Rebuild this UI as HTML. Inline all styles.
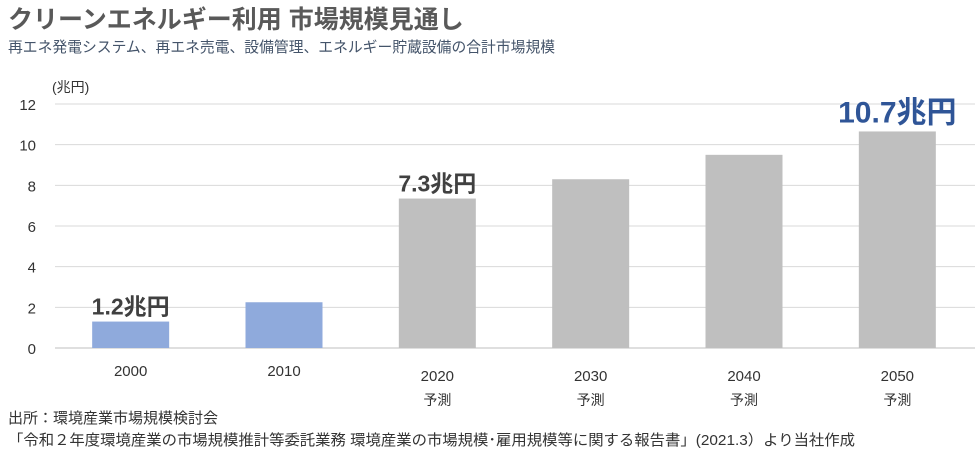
<!DOCTYPE html>
<html><head><meta charset="utf-8">
<style>
body{margin:0;background:#fff;width:980px;height:453px;overflow:hidden;font-family:"Liberation Sans","Noto Sans CJK JP",sans-serif;}
svg text{font-family:"Liberation Sans","Noto Sans CJK JP",sans-serif;}
</style></head>
<body>
<svg width="980" height="453" xmlns="http://www.w3.org/2000/svg">
<text x="8" y="28" font-size="25" font-weight="bold" fill="#595959">クリーンエネルギー利用 市場規模見通し</text>
<text x="8" y="52" font-size="14.8" fill="#44546a">再エネ発電システム、再エネ売電、設備管理、エネルギー貯蔵設備の合計市場規模</text>
<text x="52" y="92" font-size="14" fill="#333">(兆円)</text>
<g id="grid"></g>
<g id="yticks"></g>
<g id="bars"></g>
<g id="xticks"></g>
<text x="8" y="423" font-size="15" fill="#333">出所：環境産業市場規模検討会</text>
<text x="8" y="445" font-size="15" fill="#333" textLength="847" lengthAdjust="spacingAndGlyphs">「令和２年度環境産業の市場規模推計等委託業務 環境産業の市場規模･雇用規模等に関する報告書」(2021.3）より当社作成</text>
</svg>
<script>
const categories=["2000","2010","2020","2030","2040","2050"];
const values=[1.3,2.25,7.35,8.3,9.5,10.65];
const forecast=[false,false,true,true,true,true];
const labels=["1.2兆円","","7.3兆円","","","10.7兆円"];
const yTicks=[0,2,4,6,8,10,12];
const NS="http://www.w3.org/2000/svg";
const x0=55,x1=975,yZero=348,yTop=104,yMax=12;
const y=v=>yZero-(yZero-yTop)*v/yMax;
const band=(x1-x0)/categories.length;
const xc=i=>x0+band*(i+0.5)-1;
function mk(t,a,p){const e=document.createElementNS(NS,t);for(const k in a)e.setAttribute(k,a[k]);p.appendChild(e);return e;}
const g=document.getElementById('grid'),yt=document.getElementById('yticks'),b=document.getElementById('bars'),xt=document.getElementById('xticks');
yTicks.forEach(v=>{
 const l=mk('line',{x1:x0,x2:x1,y1:y(v),y2:y(v),stroke:v===0?'#bfbfbf':'#d9d9d9','stroke-width':1},g);
 
 
 const t=mk('text',{x:36,y:y(v)+6,'font-size':15,fill:'#333','text-anchor':'end'},yt);
 t.textContent=v;
 
 
});
categories.forEach((c,i)=>{
 const w=77;
 const r=mk('rect',{x:xc(i)-w/2,y:y(values[i]),width:w,height:yZero-y(values[i]),fill:forecast[i]?'#bfbfbf':'#8faadc'},b);
 
 
 const t=mk('text',{x:xc(i),y:forecast[i]?381:376,'font-size':15,fill:'#333','text-anchor':'middle'},xt);
 t.textContent=c;
 
 
 if(forecast[i]){
  const f=mk('text',{x:xc(i),y:405,'font-size':14,fill:'#333','text-anchor':'middle'},xt);
  f.textContent='予測';
  
  
 }
 if(labels[i]){
  const big=i===categories.length-1;
  const l=mk('text',{x:xc(i),y:y(values[i])-(big?9:7),'font-size':big?30:23,'font-weight':'bold',fill:big?'#2f5597':'#404040','text-anchor':'middle'},b);
  l.textContent=labels[i];
  
  
 }
});
</script>
</body></html>
